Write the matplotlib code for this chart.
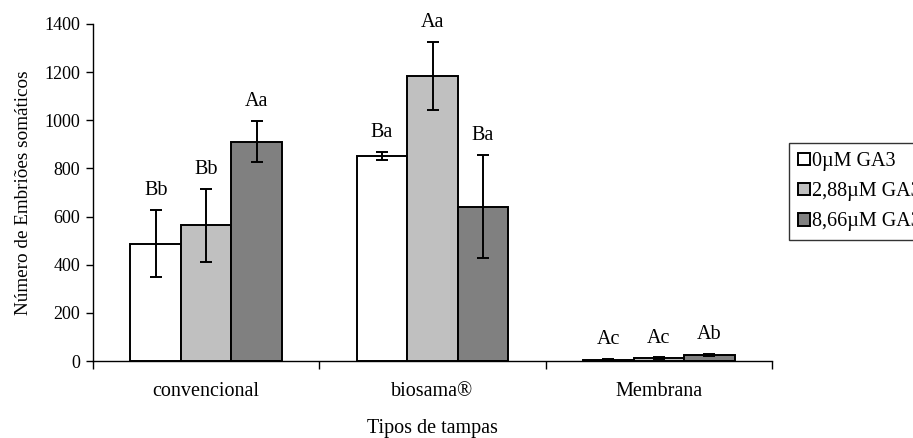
import matplotlib
matplotlib.use("Agg")
import matplotlib.pyplot as plt
import numpy as np

categories = ["convencional", "biosama®", "Membrana"]
series_names = ["0µM GA3", "2,88µM GA3", "8,66µM GA3"]
values_0 = [487, 853, 5]
values_288 = [564, 1185, 11]
values_866 = [911, 641, 24]
errors_0 = [140, 17, 4]
errors_288 = [151, 141, 4]
errors_866 = [86, 214, 5]
labels_0 = ["Bb", "Ba", "Ac"]
labels_288 = ["Bb", "Aa", "Ac"]
labels_866 = ["Aa", "Ba", "Ab"]
yticks = [0, 200, 400, 600, 800, 1000, 1200, 1400]

colors = ["#FFFFFF", "#C0C0C0", "#808080"]

plt.rcParams['font.family'] = ['Liberation Serif', 'DejaVu Serif']
fs = 14.5
fs_tick = 13

fig = plt.figure(figsize=(9.13, 4.38), dpi=100)
ax = fig.add_axes([93/913, (438-361)/438, (772-93)/913, (361-24)/438])

x = np.arange(len(categories))
w = 0.223
all_vals = [values_0, values_288, values_866]
all_err = [errors_0, errors_288, errors_866]
all_lab = [labels_0, labels_288, labels_866]
for i in range(3):
    pos = x + (i - 1) * w
    ax.bar(pos, all_vals[i], width=w, color=colors[i], edgecolor="black",
           linewidth=1.4, label=series_names[i], zorder=2)
    ax.errorbar(pos, all_vals[i], yerr=all_err[i], fmt="none", ecolor="black",
                elinewidth=1.4, capsize=4.3, capthick=1.4, zorder=3)
    for p, v, e, t in zip(pos, all_vals[i], all_err[i], all_lab[i]):
        ax.annotate(t, (p, v + e), xytext=(0, 7), textcoords="offset points",
                    ha="center", va="bottom", fontsize=fs)

ax.set_xlim(-0.5, 2.5)
ax.set_ylim(0, 1400)
ax.set_yticks(yticks)
ax.set_yticklabels([str(t) for t in yticks], fontsize=fs_tick)
ax.set_xticks([0, 1, 2])
ax.set_xticklabels(categories, fontsize=fs)
ax.tick_params(axis="x", length=0, pad=15)
ax.set_xticks([-0.5, 0.5, 1.5, 2.5], minor=True)
ax.tick_params(axis="x", which="minor", length=6, width=1, direction="out")
ax.tick_params(axis="y", length=5, width=1, direction="out", pad=4)
ax.spines["top"].set_visible(False)
ax.spines["right"].set_visible(False)
ax.spines["left"].set_linewidth(1)
ax.spines["bottom"].set_linewidth(1)

ax.set_ylabel("Número de Embriões somáticos", fontsize=fs_tick + 0.8, labelpad=9)
ax.set_xlabel("Tipos de tampas", fontsize=fs, labelpad=13)

leg = fig.legend(loc="upper left", bbox_to_anchor=(789/913, (438-143)/438),
                 fontsize=fs, frameon=True, fancybox=False, edgecolor="black",
                 handlelength=0.6, handleheight=0.6, handletextpad=0.1,
                 borderpad=0.45, labelspacing=0.55, borderaxespad=0)
leg.get_frame().set_linewidth(1)

fig.savefig("out.png", dpi=100)
